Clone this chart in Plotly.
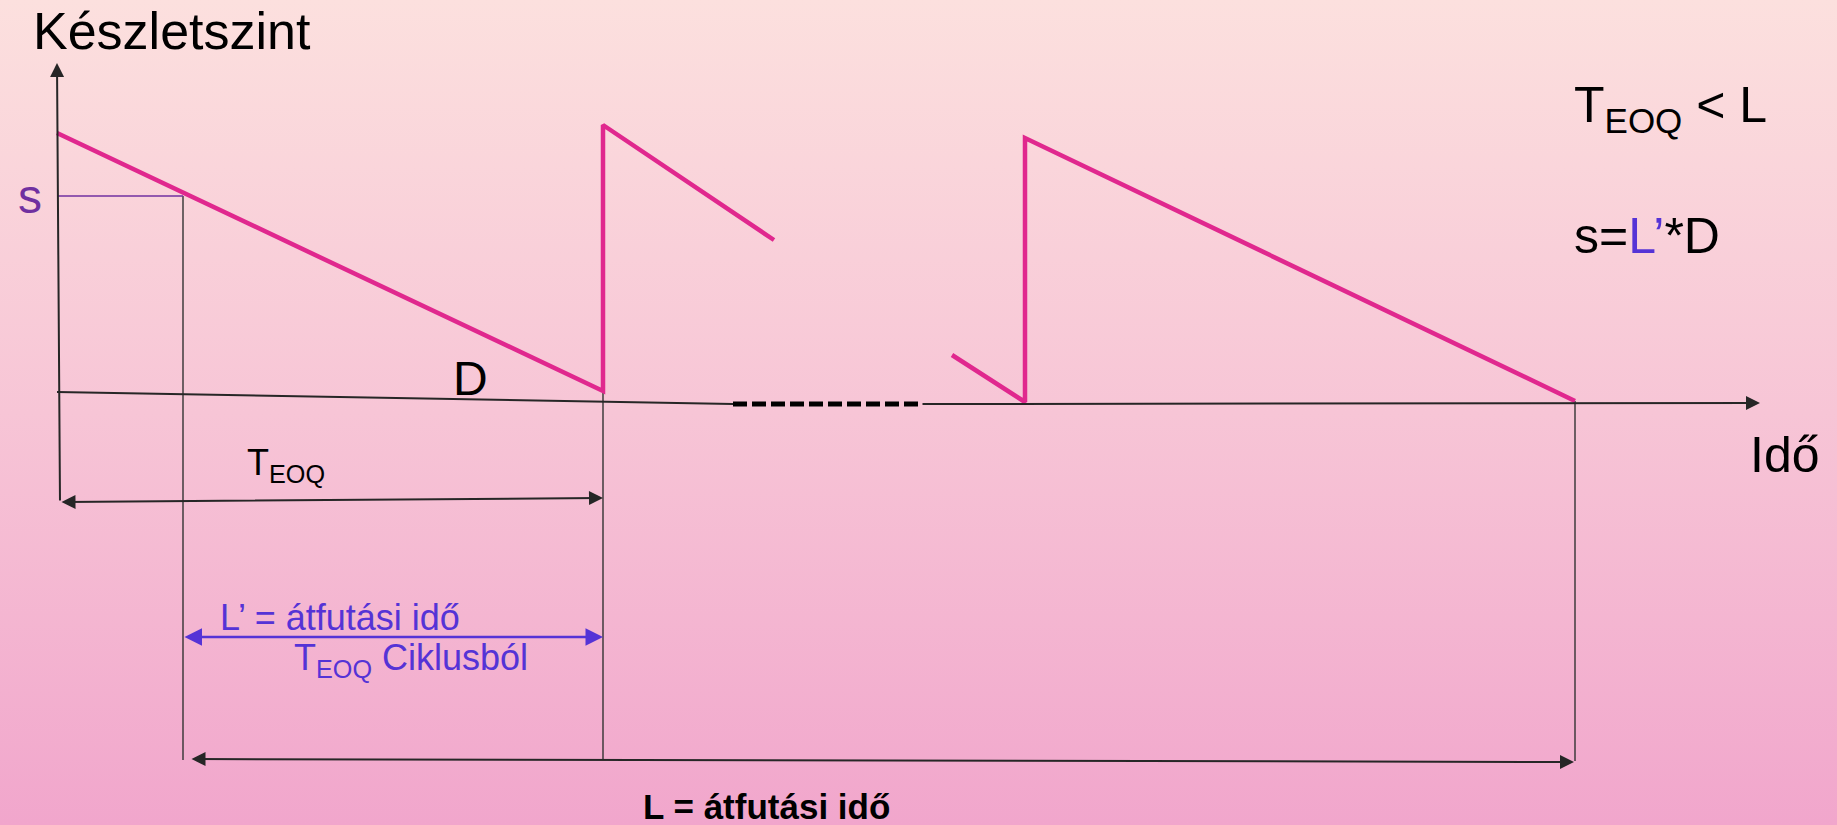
import plotly.graph_objects as go

# ---------------------------------------------------------------
# diagram coordinates (time -> x, stock level -> y, screen units)
# ---------------------------------------------------------------
W, H = 1837, 825

# inventory sawtooth (two visible pieces, the middle is cut by the dashes)
cycle1_t = [57, 603, 603, 774]
cycle1_q = [133, 391, 125, 240]
cycle2_t = [952, 1025, 1025, 1575]
cycle2_q = [355, 402, 138, 401]

# reorder point s
s_t = [57, 183]
s_q = [196, 196]

# guide verticals (reorder moment, first arrival, arrival after L)
guide_t = [183, 603, 1575]
guide_top = [196, 391, 401]
guide_bottom = [760, 760, 761]

# time axis pieces
base_t = [57, 733]
base_q = [392, 404]
gap_t = [733, 921]
gap_q = [404, 404]
axis_end_t = [921, 1760]
axis_end_q = [404, 403]
yaxis_t = [60, 57]
yaxis_q = [502, 63]

# measured spans: (start_t, start_q, end_t, end_q)
span_teoq = [60, 502, 603, 498]
span_lprime = [183, 637, 603, 637]
span_l = [190, 759, 1574, 762]

PINK = "#E0288E"
DARK = "#262626"
BLUE = "#5533D6"
PURPLE = "#7030A0"
FONT = "Arial, Liberation Sans, sans-serif"

fig = go.Figure()

# background gradient
fig.add_trace(go.Scatter(
    x=[0, W, W, 0, 0], y=[0, 0, H, H, 0],
    mode="lines", line=dict(width=0), fill="toself",
    fillgradient=dict(type="vertical", start=0, stop=H,
                      colorscale=[[0, "#FCE0DE"], [0.5, "#F7C5D6"], [1, "#F1A6CC"]]),
    hoverinfo="skip", showlegend=False,
))

# thin guide lines
for t, q0, q1 in zip(guide_t, guide_top, guide_bottom):
    fig.add_trace(go.Scatter(x=[t, t], y=[q0, q1], mode="lines",
                             line=dict(color="#333333", width=1.4),
                             hoverinfo="skip", showlegend=False))

fig.add_trace(go.Scatter(x=s_t, y=s_q, mode="lines",
                         line=dict(color=PURPLE, width=1.5),
                         hoverinfo="skip", showlegend=False))

# time axis
fig.add_trace(go.Scatter(x=base_t, y=base_q, mode="lines",
                         line=dict(color=DARK, width=2),
                         hoverinfo="skip", showlegend=False))
fig.add_trace(go.Scatter(x=gap_t, y=gap_q, mode="lines",
                         line=dict(color="black", width=5, dash="14px,5px"),
                         hoverinfo="skip", showlegend=False))

# inventory level
for tt, qq in [(cycle1_t, cycle1_q), (cycle2_t, cycle2_q)]:
    fig.add_trace(go.Scatter(x=tt, y=qq, mode="lines",
                             line=dict(color=PINK, width=4.5),
                             hoverinfo="skip", showlegend=False))


def arrow(t0, q0, t1, q1, color, width, side="end", size=1.4):
    fig.add_annotation(x=t1, y=q1, ax=t0, ay=q0, xref="x", yref="y",
                       axref="x", ayref="y", text="", showarrow=True,
                       arrowhead=2, startarrowhead=2, arrowside=side,
                       arrowsize=size, startarrowsize=size,
                       arrowwidth=width, arrowcolor=color, standoff=0,
                       startstandoff=0)


arrow(yaxis_t[0], yaxis_q[0], yaxis_t[1], yaxis_q[1], DARK, 2)
arrow(axis_end_t[0], axis_end_q[0], axis_end_t[1], axis_end_q[1], DARK, 2)
arrow(*span_teoq, DARK, 2, side="end+start")
arrow(*span_lprime, BLUE, 2.5, side="end+start")
arrow(*span_l, DARK, 2, side="end+start")


def label(t, q, text, size, color="black", xanchor="left", bold=False):
    if bold:
        text = "<b>" + text + "</b>"
    fig.add_annotation(x=t, y=q, xref="x", yref="y", text=text, showarrow=False,
                       xanchor=xanchor, yanchor="middle",
                       font=dict(family=FONT, size=size, color=color))


label(31, 31, "Készletszint", 52)
label(30, 196, "s", 48, color=PURPLE, xanchor="center")
label(470, 378, "D", 48, xanchor="center")
label(1785, 455, "Idő", 50, xanchor="center")
label(1572, 108, "T<sub>EOQ</sub> &lt; L", 50)
label(1572, 236, "s=<span style='color:%s'>L’</span>*D" % BLUE, 50)
label(245, 465, "T<sub>EOQ</sub>", 36)
label(218, 617, "L’ = átfutási idő", 36, color=BLUE)
label(292, 660, "T<sub>EOQ</sub> Ciklusból", 36, color=BLUE)
label(641, 806, "L = átfutási idő", 35, bold=True)

fig.update_layout(
    width=W, height=H,
    margin=dict(l=0, r=0, t=0, b=0),
    paper_bgcolor="#F7C5D6", plot_bgcolor="#F7C5D6",
    showlegend=False,
    xaxis=dict(range=[0, W], visible=False, fixedrange=True),
    yaxis=dict(range=[H, 0], visible=False, fixedrange=True),
)

fig.write_html("out.html", config={"displayModeBar": False},
               post_script="document.body.style.margin='0';document.body.style.overflow='hidden';")
